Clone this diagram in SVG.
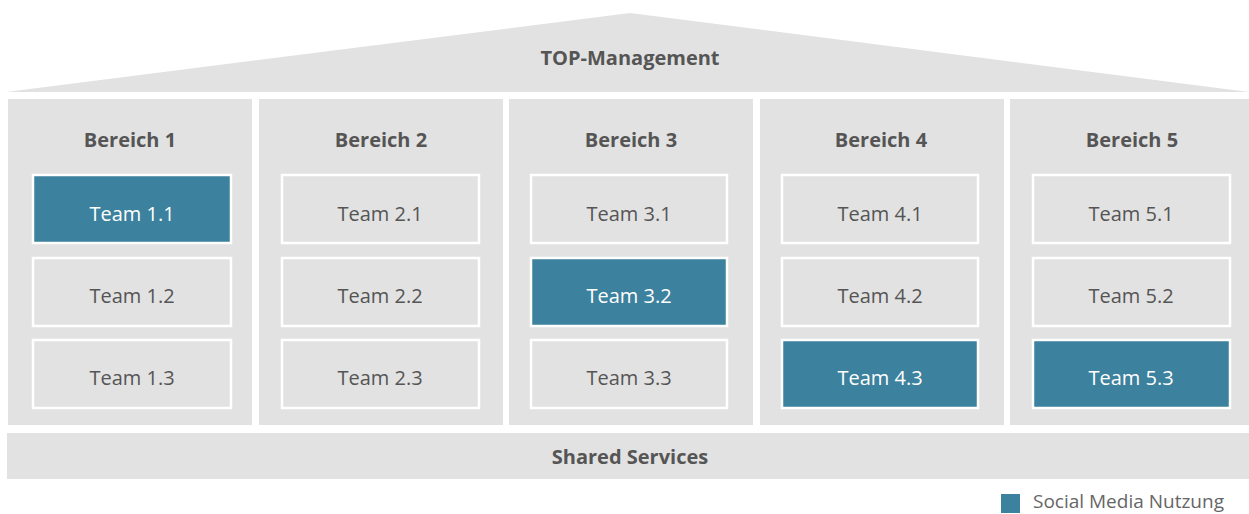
<svg xmlns="http://www.w3.org/2000/svg" width="1249" height="514" viewBox="0 0 1249 514">
<style>
.bg{fill:#e2e2e2}
.box{fill:#e2e2e2;stroke:#ffffff;stroke-width:2.5}
.hl{fill:#3c819d;stroke:#ffffff;stroke-width:2.5}
.h{font-family:"Open Sans","Liberation Sans",sans-serif;font-weight:bold;font-size:20px;fill:#555555;text-anchor:middle}
.t{font-family:"Open Sans","Liberation Sans",sans-serif;font-size:20px;fill:#555555;text-anchor:middle}
.tw{font-family:"Open Sans","Liberation Sans",sans-serif;font-size:20px;fill:#ffffff;text-anchor:middle}
.lg{font-family:"Open Sans","Liberation Sans",sans-serif;font-size:19px;fill:#666666}
</style>
<rect width="1249" height="514" fill="#ffffff"/>
<g id="top">
<polygon class="bg" points="6,92 630,13 1249,92"/>
<text class="h" x="630" y="65">TOP-Management</text>
</g>
<g id="bereich1">
<rect class="bg" x="8" y="99" width="244" height="326"/>
<text class="h" x="130" y="147">Bereich 1</text>
<rect class="hl" x="33" y="175" width="198" height="68"/><text class="tw" x="132" y="221">Team 1.1</text>
<rect class="box" x="33" y="258" width="198" height="68"/><text class="t" x="132" y="303">Team 1.2</text>
<rect class="box" x="33" y="340" width="198" height="68"/><text class="t" x="132" y="385">Team 1.3</text>
</g>
<g id="bereich2">
<rect class="bg" x="259" y="99" width="244" height="326"/>
<text class="h" x="381" y="147">Bereich 2</text>
<rect class="box" x="282" y="175" width="197" height="68"/><text class="t" x="380" y="221">Team 2.1</text>
<rect class="box" x="282" y="258" width="197" height="68"/><text class="t" x="380" y="303">Team 2.2</text>
<rect class="box" x="282" y="340" width="197" height="68"/><text class="t" x="380" y="385">Team 2.3</text>
</g>
<g id="bereich3">
<rect class="bg" x="509" y="99" width="244" height="326"/>
<text class="h" x="631" y="147">Bereich 3</text>
<rect class="box" x="531" y="175" width="196" height="68"/><text class="t" x="629" y="221">Team 3.1</text>
<rect class="hl" x="531" y="258" width="196" height="68"/><text class="tw" x="629" y="303">Team 3.2</text>
<rect class="box" x="531" y="340" width="196" height="68"/><text class="t" x="629" y="385">Team 3.3</text>
</g>
<g id="bereich4">
<rect class="bg" x="760" y="99" width="244" height="326"/>
<text class="h" x="881" y="147">Bereich 4</text>
<rect class="box" x="782" y="175" width="196" height="68"/><text class="t" x="880" y="221">Team 4.1</text>
<rect class="box" x="782" y="258" width="196" height="68"/><text class="t" x="880" y="303">Team 4.2</text>
<rect class="hl" x="782" y="340" width="196" height="68"/><text class="tw" x="880" y="385">Team 4.3</text>
</g>
<g id="bereich5">
<rect class="bg" x="1010" y="99" width="239" height="326"/>
<text class="h" x="1132" y="147">Bereich 5</text>
<rect class="box" x="1033" y="175" width="197" height="68"/><text class="t" x="1131" y="221">Team 5.1</text>
<rect class="box" x="1033" y="258" width="197" height="68"/><text class="t" x="1131" y="303">Team 5.2</text>
<rect class="hl" x="1033" y="340" width="197" height="68"/><text class="tw" x="1131" y="385">Team 5.3</text>
</g>
<g id="shared">
<rect class="bg" x="7" y="433" width="1242" height="46"/>
<text class="h" x="630" y="464">Shared Services</text>
</g>
<g id="legend">
<rect x="1001" y="494" width="19" height="19" fill="#3c819d"/>
<text class="lg" x="1033" y="508">Social Media Nutzung</text>
</g>
<g id="connectors"/>
</svg>
